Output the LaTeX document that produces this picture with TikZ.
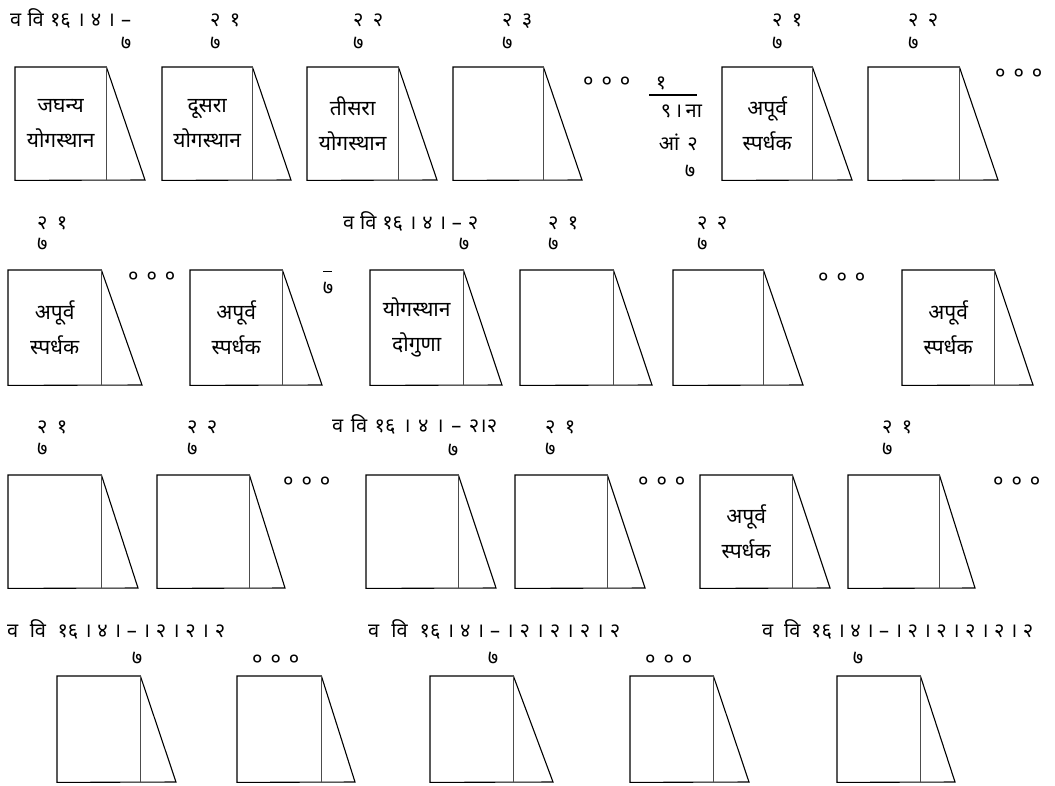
\documentclass[tikz,border=0pt]{standalone}
\usepackage{fontspec}
\setmainfont[Script=Devanagari]{Noto Sans}
\newcommand\boxfont{\fontsize{21}{35}\selectfont}
\newcommand\lblfont{\fontsize{20}{22}\selectfont}
\newcommand\sw[2]{\makebox[#1pt][s]{#2}}
\tikzset{
  card/.style={draw=none, inner sep=0pt, align=center, font=\boxfont},
  edge/.style={line width=1.1pt, line join=miter},
  innerline/.style={line width=0.6pt, black!70},
  lbl/.style={inner sep=0pt, font=\lblfont, anchor=base west},
  sev/.style={inner sep=0pt, font=\lblfont, anchor=base},
  dotrow/.style={inner sep=0pt, font=\lblfont, anchor=west},
}
\newcommand\mkcard[7]{%
  \pgfmathsetmacro\cw{#4-#2}\pgfmathsetmacro\ch{#5-#3}%
  \node[card, minimum width=\cw pt, minimum height=\ch pt, anchor=north west] (#1) at (#2,#3) {#7};
  \coordinate (#1t) at (#6,#5);
  \draw[edge] (#1.north west) -- (#1.north east) -- (#1t) -- (#1.south west) -- cycle;
  \draw[innerline] (#1.north east) -- (#1.south east);
}
\begin{document}
\begin{tikzpicture}[x=1pt,y=-1pt]
\useasboundingbox (0,0) rectangle (1055,785);
% ---------- row 1
\mkcard{ra}{15}{67}{106}{180}{145}{जघन्य\\योगस्थान}
\mkcard{rb}{162}{67}{252}{180}{291}{दूसरा\\योगस्थान}
\mkcard{rc}{307}{67}{398}{180}{437}{तीसरा\\योगस्थान}
\mkcard{rd}{453}{67}{543}{180}{582}{}
\mkcard{re}{722}{67}{812}{180}{852}{अपूर्व\\स्पर्धक}
\mkcard{rf}{868}{67}{959}{180}{998}{}
\node[lbl] (la1) at (10,26) {\sw{121}{व वि १६ । ४ । –}};
\node[sev] (la2) at (126,49) {७};
\node[lbl] (lb1) at (210,26) {\sw{30}{२ १}};
\node[lbl] (lb2) at (210,49) {७};
\node[lbl] (lc1) at (353,26) {\sw{30}{२ २}};
\node[lbl] (lc2) at (353,49) {७};
\node[lbl] (ld1) at (502,26) {\sw{30}{२ ३}};
\node[lbl] (ld2) at (502,49) {७};
\node[lbl] (le1) at (772,26) {\sw{30}{२ १}};
\node[lbl] (le2) at (772,49) {७};
\node[lbl] (lf1) at (908,26) {\sw{30}{२ २}};
\node[lbl] (lf2) at (908,49) {७};
\node[dotrow] (d1) at (583,82) {\sw{47}{० ० ०}};
\node[dotrow] (d2) at (995,74) {\sw{47}{० ० ०}};
% fraction
\node[sev] (fa) at (661,89) {१};
\coordinate (fl) at (649,95);
\coordinate (fr) at (697,95);
\draw[edge] (fl) -- (fr);
\node[lbl, anchor=base east] (fb) at (698,117) {\sw{37}{९ । ना}};
\node[lbl, anchor=base east] (fc) at (698,150) {\sw{39}{आं २}};
\node[sev] (fd) at (690,177) {७};
% ---------- row 2
\mkcard{sa}{8}{270}{101}{385}{142}{अपूर्व\\स्पर्धक}
\mkcard{sb}{190}{270}{282}{385}{322}{अपूर्व\\स्पर्धक}
\mkcard{sc}{370}{270}{463}{385}{502}{योगस्थान\\दोगुणा}
\mkcard{sd}{520}{270}{613}{385}{652}{}
\mkcard{se}{673}{270}{763}{385}{803}{}
\mkcard{sf}{902}{270}{994}{385}{1033}{\raisebox{-6pt}{\parbox{80pt}{\centering अपूर्व\\स्पर्धक}}}
\node[lbl] (ma1) at (37,229) {\sw{30}{२ १}};
\node[lbl] (ma2) at (37,250) {७};
\node[lbl] (mc1) at (343,229) {\sw{135}{व वि १६ । ४ । – २}};
\node[sev] (mc2) at (464,250) {७};
\node[lbl] (md1) at (548,229) {\sw{30}{२ १}};
\node[lbl] (md2) at (548,250) {७};
\node[lbl] (me1) at (697,229) {\sw{30}{२ २}};
\node[lbl] (me2) at (697,250) {७};
\node[dotrow] (e1) at (128,277) {\sw{47}{० ० ०}};
\node[dotrow] (e2) at (818,278) {\sw{47}{० ० ०}};
\node[sev] (ov) at (328,294) {७};
\coordinate (ovl) at (323,271);
\coordinate (ovr) at (332,271);
\draw[line width=0.8pt] (ovl) -- (ovr);
% ---------- row 3
\mkcard{ta}{8}{475}{101}{588}{138}{}
\mkcard{tb}{157}{475}{249}{588}{285}{}
\mkcard{tc}{366}{475}{458}{588}{496}{}
\mkcard{td}{515}{475}{607}{588}{645}{}
\mkcard{te}{700}{475}{792}{588}{830}{अपूर्व\\स्पर्धक}
\mkcard{tf}{848}{475}{939}{588}{975}{}
\node[lbl] (na1) at (37,433) {\sw{30}{२ १}};
\node[lbl] (na2) at (37,455) {७};
\node[lbl] (nb1) at (187,433) {\sw{30}{२ २}};
\node[lbl] (nb2) at (187,455) {७};
\node[lbl] (nc1) at (332,432) {\sw{165}{व वि १६ । ४ । – २।२}};
\node[sev] (nc2) at (453,456) {७};
\node[lbl] (nd1) at (545,433) {\sw{30}{२ १}};
\node[lbl] (nd2) at (545,455) {७};
\node[lbl] (nf1) at (882,433) {\sw{30}{२ १}};
\node[lbl] (nf2) at (882,455) {७};
\node[dotrow] (g1) at (283,482) {\sw{47}{० ० ०}};
\node[dotrow] (g2) at (638,482) {\sw{47}{० ० ०}};
\node[dotrow] (g3) at (993,482) {\sw{47}{० ० ०}};
% ---------- row 4
\mkcard{ua}{57}{676}{140}{782}{176}{}
\mkcard{ub}{237}{676}{321}{782}{355}{}
\mkcard{uc}{430}{676}{513}{782}{553}{}
\mkcard{ud}{630}{676}{713}{782}{749}{}
\mkcard{ue}{837}{676}{920}{782}{955}{}
\node[lbl] (oa1) at (7,637) {\sw{218}{व \ वि \ १६ । ४ । – । २ । २ । २}};
\node[sev] (oa2) at (137,664) {७};
\node[lbl] (ob1) at (368,637) {\sw{252}{व \ वि \ १६ । ४ । – । २ । २ । २ । २}};
\node[sev] (ob2) at (493,664) {७};
\node[lbl] (oc1) at (762,637) {\sw{271}{व \ वि \ १६ । ४ । – । २ । २ । २ । २ । २}};
\node[sev] (oc2) at (858,664) {७};
\node[dotrow] (h1) at (252,660) {\sw{47}{० ० ०}};
\node[dotrow] (h2) at (645,660) {\sw{47}{० ० ०}};
\end{tikzpicture}
\end{document}
